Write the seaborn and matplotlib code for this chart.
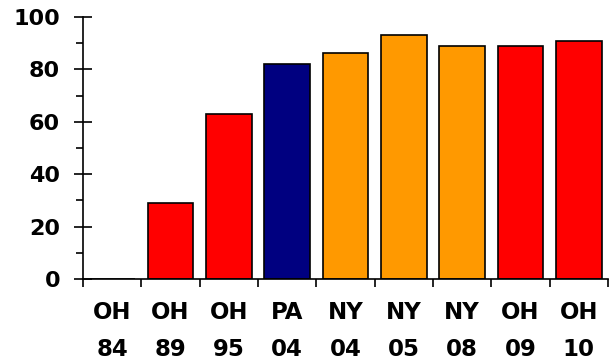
import numpy as np
import matplotlib
matplotlib.use('Agg')
import matplotlib.pyplot as plt
import seaborn as sns

# data
labels = ['OH\n84', 'OH\n89', 'OH\n95', 'PA\n04', 'NY\n04', 'NY\n05', 'NY\n08', 'OH\n09', 'OH\n10']
values = [0, 29, 63, 82, 86.3, 93.2, 89, 89, 91]
colors = ['#FF0000', '#FF0000', '#FF0000', '#000080', '#FF9900', '#FF9900', '#FF9900', '#FF0000', '#FF0000']

sns.set_style('white')
plt.rcParams['font.family'] = ['DejaVu Sans']
plt.rcParams['text.color'] = 'black'
plt.rcParams['xtick.color'] = 'black'
plt.rcParams['ytick.color'] = 'black'

fig = plt.figure(figsize=(6.11, 3.64), dpi=100)
ax = fig.add_axes([0.136, 0.2335, 0.859, 0.7195])

sns.barplot(x=labels, y=values, hue=labels, palette=colors, legend=False,
            edgecolor='black', linewidth=1.2, width=0.78, saturation=1, ax=ax)

ax.set_xlim(-0.5, len(labels) - 0.5)
ax.set_ylim(0, 100)

# x: tick marks on category boundaries, labels centred under bars
ax.set_xticks(np.arange(-0.5, len(labels), 1.0))
ax.set_xticklabels([])
ax.set_xticks(np.arange(len(labels)), minor=True)
ax.set_xticklabels(labels, minor=True, fontsize=16.5, fontweight='bold', linespacing=1.75)
ax.tick_params(axis='x', which='major', bottom=True, direction='out', length=6, width=1.2,
               color='black')
ax.tick_params(axis='x', which='minor', bottom=True, length=0, pad=16, labelcolor='black')

# y: crossing major ticks, outward minor ticks
ax.set_yticks(np.arange(0, 101, 20))
ax.set_yticks(np.arange(10, 100, 20), minor=True)
ax.tick_params(axis='y', which='major', left=True, direction='inout', length=13, width=1.2,
               color='black', labelsize=16, labelcolor='black', pad=10)
ax.tick_params(axis='y', which='minor', left=True, direction='out', length=5, width=1.2,
               color='black')
for lab in ax.get_yticklabels():
    lab.set_fontweight('bold')

for side in ['top', 'right']:
    ax.spines[side].set_visible(False)
for side in ['left', 'bottom']:
    ax.spines[side].set_color('black')
    ax.spines[side].set_linewidth(1.2)

ax.set_xlabel('')
ax.set_ylabel('')

fig.savefig('out.png', dpi=100)
